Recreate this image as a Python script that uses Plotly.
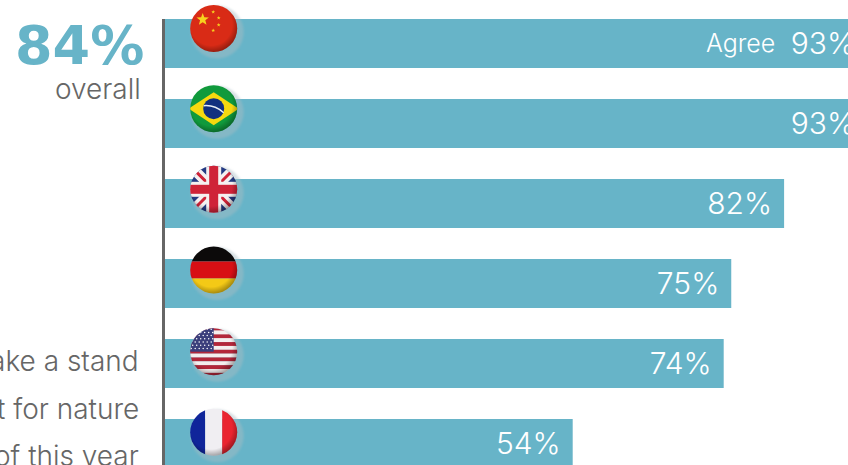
import base64
from math import cos, sin, pi
import plotly.graph_objects as go

countries = ["China", "Brazil", "UK", "Germany", "USA", "France"]
agree = [93, 93, 82, 75, 74, 54]
value_labels = ["93%", "93%", "82%", "75%", "74%", "54%"]
side_lines = ["ake a stand", "t for nature", "of this year"]

W, H = 848, 465
LEFT, TOP = 165, 19
PX_PER_PCT = 7.55
BAR_BLUE = "#67b4c8"
GREY = "#666666"
FONT = "Inter"


def stripes_us():
    rows = []
    for i in range(13):
        fill = "#b3273a" if i % 2 == 0 else "#f4eeee"
        rows.append(f'<rect x="0" y="{i * 100 / 13:.2f}" width="100" height="{100 / 13 + .2:.2f}" fill="{fill}"/>')
    stars = []
    for r in range(7):
        for c in range(6):
            stars.append(f'<circle cx="{5 + c * 8 + (r % 2) * 3:.1f}" cy="{5 + r * 6.4:.1f}" r="1.5" fill="#fff"/>')
    return "".join(rows) + '<rect width="50" height="50" fill="#3b3f7c"/>' + "".join(stars)


def star(cx, cy, r, fill="#f7d21e"):
    pts = []
    for i in range(10):
        rad = r if i % 2 == 0 else r * 0.42
        a = -pi / 2 + i * pi / 5
        pts.append(f"{cx + rad * cos(a):.1f},{cy + rad * sin(a):.1f}")
    return f'<polygon points="{" ".join(pts)}" fill="{fill}"/>'


flag_art = {
    "China": '<rect width="100" height="100" fill="#d92b16"/>' + star(28, 32, 13)
             + star(49, 17, 4) + star(60, 29, 4) + star(60, 43, 4) + star(49, 54, 4),
    "Brazil": '<rect width="100" height="100" fill="#109a3c"/>'
              '<polygon points="0,50 50,17 100,50 50,83" fill="#f6d90f"/>'
              '<circle cx="50" cy="50" r="21" fill="#12307f"/>'
              '<path d="M30 44 Q52 42 70 58" stroke="#e8eef5" stroke-width="3" fill="none"/>',
    "UK": '<rect width="100" height="100" fill="#243a82"/>'
          '<path d="M0 0 L100 100 M100 0 L0 100" stroke="#f4f0f0" stroke-width="20"/>'
          '<path d="M0 0 L100 100 M100 0 L0 100" stroke="#cf2338" stroke-width="6"/>'
          '<rect x="35" width="30" height="100" fill="#f4f0f0"/>'
          '<rect y="35" width="100" height="30" fill="#f4f0f0"/>'
          '<rect x="41" width="18" height="100" fill="#cf2338"/>'
          '<rect y="41" width="100" height="18" fill="#cf2338"/>',
    "Germany": '<rect width="100" height="33" fill="#0c0a0a"/>'
               '<rect y="33" width="100" height="34" fill="#d80f14"/>'
               '<rect y="67" width="100" height="33" fill="#f4c916"/>',
    "USA": stripes_us(),
    "France": '<rect width="33" height="100" fill="#10259a"/>'
              '<rect x="33" width="34" height="100" fill="#f0eef2"/>'
              '<rect x="67" width="33" height="100" fill="#ea2430"/>',
}
flag_centres = {
    "China": (213.7, 28.5), "Brazil": (213.7, 108.7), "UK": (213.7, 189.3),
    "Germany": (213.7, 270), "USA": (213.7, 351.7), "France": (213.7, 432.3),
}


def badge(art):
    # Round glossy badge: soft halo underneath, flag art clipped to a circle, shaded rim on top.
    svg = f'''<svg xmlns="http://www.w3.org/2000/svg" width="70" height="70" viewBox="0 0 140 140">
<defs>
<clipPath id="c"><circle cx="50" cy="50" r="47"/></clipPath>
<filter id="b" x="-30%" y="-30%" width="160%" height="160%"><feGaussianBlur stdDeviation="2.5"/></filter>
<radialGradient id="s" cx="45%" cy="42%" r="58%">
<stop offset="72%" stop-color="#000" stop-opacity="0"/>
<stop offset="100%" stop-color="#000" stop-opacity=".38"/></radialGradient>
</defs>
<g transform="translate(20,20)">
<circle cx="57" cy="57" r="53" fill="#a8bcc4" fill-opacity=".45" filter="url(#b)"/>
<g clip-path="url(#c)">{art}<rect width="100" height="100" fill="url(#s)"/></g>
</g></svg>'''
    return "data:image/svg+xml;base64," + base64.b64encode(svg.encode()).decode()


def px(x):
    return x / W


def py(y):
    return 1 - y / H


rows = list(range(len(countries)))

fig = go.Figure()
fig.add_bar(
    x=agree, y=rows, orientation="h", width=49 / 80, customdata=countries,
    marker=dict(color=BAR_BLUE, line_width=0), hoverinfo="skip",
)
# Value labels sit 12px inside each bar's end and get clipped at the plot edge.
fig.add_scatter(
    x=[v - 12 / PX_PER_PCT for v in agree], y=[r + 3 / 80 for r in rows],
    mode="text", text=value_labels, textposition="middle left", hoverinfo="skip",
    textfont=dict(family=FONT, size=30, color="#ffffff", weight=300),
)

annotations = [
    dict(xref="paper", yref="paper", x=px(776.5), y=py(43),
         text="Agree", showarrow=False, xanchor="right", yanchor="middle",
         font=dict(family=FONT, size=25, color="#ffffff", weight=300)),
    dict(xref="paper", yref="paper", x=px(146), y=py(46),
         text="84%", showarrow=False, xanchor="right", yanchor="middle",
         font=dict(family="DejaVu Sans", size=54, color=BAR_BLUE, weight=700)),
    dict(xref="paper", yref="paper", x=px(143), y=py(89),
         text="overall", showarrow=False, xanchor="right", yanchor="middle",
         font=dict(family=FONT, size=28, color=GREY, weight=300)),
]
for line, line_y in zip(side_lines, [361, 409, 456]):
    annotations.append(dict(
        xref="paper", yref="paper", x=px(140.5), y=py(line_y),
        text=line, showarrow=False, xanchor="right", yanchor="middle",
        font=dict(family=FONT, size=28, color=GREY, weight=300),
    ))

images = []
for name in countries:
    cx, cy = flag_centres[name]
    images.append(dict(
        source=badge(flag_art[name]), xref="paper", yref="paper",
        x=px(cx), y=py(cy), sizex=70 / W, sizey=70 / H,
        xanchor="center", yanchor="middle", layer="above", sizing="stretch",
    ))

fig.update_layout(
    width=W, height=H, margin=dict(l=0, r=0, t=0, b=0),
    paper_bgcolor="#ffffff", plot_bgcolor="#ffffff",
    showlegend=False, annotations=annotations, images=images,
    xaxis=dict(domain=[LEFT / W, 1], range=[0, (W - LEFT) / PX_PER_PCT],
               showgrid=False, zeroline=False, showticklabels=False, ticks=""),
    yaxis=dict(domain=[0, 1 - TOP / H], range=[(H - 43.5) / 80, -24.5 / 80],
               tickmode="array", tickvals=rows, ticktext=countries,
               showgrid=False, zeroline=False, showticklabels=False, ticks="",
               showline=True, linecolor=GREY, linewidth=3),
)

fig.write_html("out.html", config={"displayModeBar": False})
